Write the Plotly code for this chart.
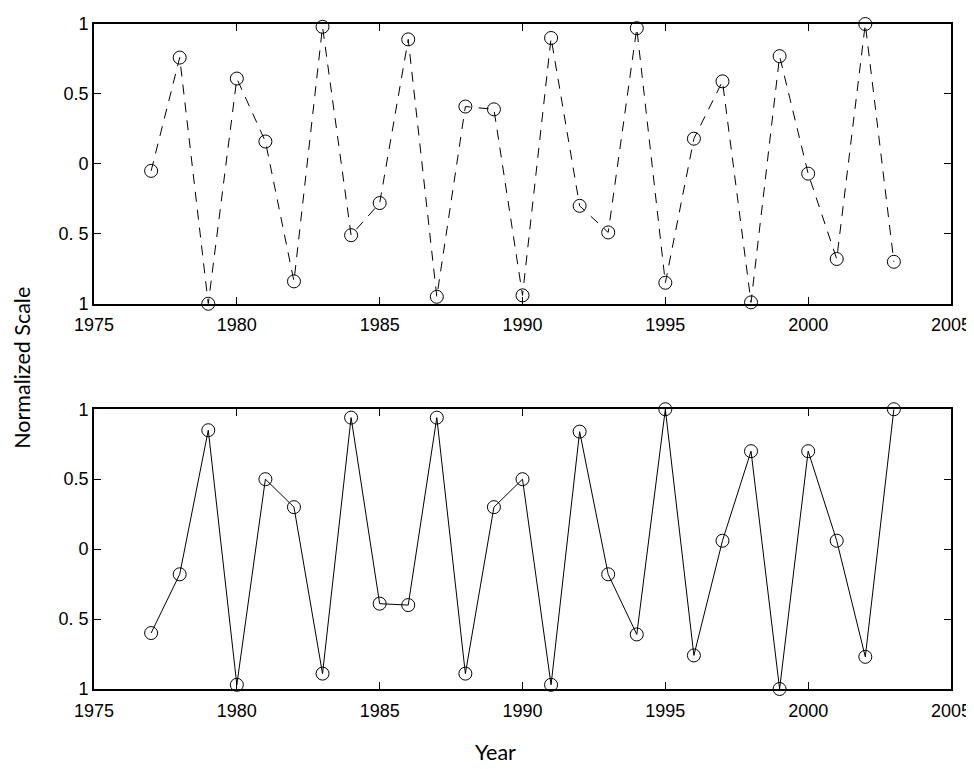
import plotly.graph_objects as go

years = list(range(1977, 2004))
top_values = [-0.05, 0.76, -1.0, 0.61, 0.16, -0.84, 0.98, -0.51, -0.28, 0.89,
              -0.95, 0.41, 0.39, -0.94, 0.90, -0.30, -0.49, 0.97, -0.85, 0.18,
              0.59, -0.99, 0.77, -0.07, -0.68, 1.0, -0.70]
bottom_values = [-0.60, -0.18, 0.85, -0.97, 0.50, 0.30, -0.89, 0.94, -0.39, -0.40,
                 0.94, -0.89, 0.30, 0.50, -0.97, 0.84, -0.18, -0.61, 1.0, -0.76,
                 0.06, 0.70, -1.0, 0.70, 0.06, -0.77, 1.0]
y_tickvals = [1, 0.5, 0, -0.5, -1]
y_ticktext = ["1", "0.5", "0", "0. 5", "1"]
x_tickvals = [1975, 1980, 1985, 1990, 1995, 2000, 2005]

# the page body shifts the figure by 8px; compensate in the margins
OX, OY = 8, 8
W, H = 974, 769
ML, MT = 94 - OX, 14 - OY
MR = W - (951 - OX)
MB = H - (689 - OY)
plot_w = W - ML - MR
plot_h = H - MT - MB


def px_to_paper(xp, yp):
    return (xp - OX - ML) / plot_w, (H - MB - (yp - OY)) / plot_h


fig = go.Figure()
fig.add_trace(go.Scatter(x=years, y=top_values, mode="lines+markers",
                         line=dict(color="black", width=1, dash="10px,8px"),
                         marker=dict(symbol="circle-open", size=13, color="black",
                                     line=dict(width=1)),
                         xaxis="x", yaxis="y", showlegend=False, cliponaxis=False))
fig.add_trace(go.Scatter(x=years, y=bottom_values, mode="lines+markers",
                         line=dict(color="black", width=1),
                         marker=dict(symbol="circle-open", size=13, color="black",
                                     line=dict(width=1)),
                         xaxis="x2", yaxis="y2", showlegend=False, cliponaxis=False))

font_ticks = dict(family="Liberation Sans, Arial, sans-serif", size=18, color="black")
axis_common = dict(showgrid=False, zeroline=False, showline=True, linecolor="black",
                   linewidth=1.8, mirror="allticks", ticks="inside", ticklen=7,
                   tickcolor="black", tickwidth=1, tickfont=font_ticks)
x_extra = dict(ticklabelstandoff=4)

title_font = dict(family="Lato, sans-serif", size=21.5, color="black")
yl_x, yl_y = px_to_paper(22, 363)
xl_x, xl_y = px_to_paper(495, 753)

fig.update_layout(
    width=W, height=H,
    margin=dict(l=ML, r=MR, t=MT, b=MB),
    paper_bgcolor="white", plot_bgcolor="white",
    xaxis=dict(domain=[0, 1], anchor="y", range=[1975, 2005], tickvals=x_tickvals,
               **x_extra, **axis_common),
    yaxis=dict(domain=[0.5793, 1], anchor="x", range=[-1, 1], tickvals=y_tickvals,
               ticktext=y_ticktext, **axis_common),
    xaxis2=dict(domain=[0, 1], anchor="y2", range=[1975, 2005], tickvals=x_tickvals,
                **x_extra, **axis_common),
    yaxis2=dict(domain=[0, 0.4207], anchor="x2", range=[-1, 1], tickvals=y_tickvals,
                ticktext=y_ticktext, **axis_common),
    annotations=[
        dict(text="Normalized Scale", x=yl_x, y=yl_y, xref="paper", yref="paper",
             xanchor="center", yanchor="middle", showarrow=False, textangle=-90,
             font=title_font),
        dict(text="Year", x=xl_x, y=xl_y, xref="paper", yref="paper",
             xanchor="center", yanchor="middle", showarrow=False, font=title_font),
    ],
)

fig.write_html("out.html")
